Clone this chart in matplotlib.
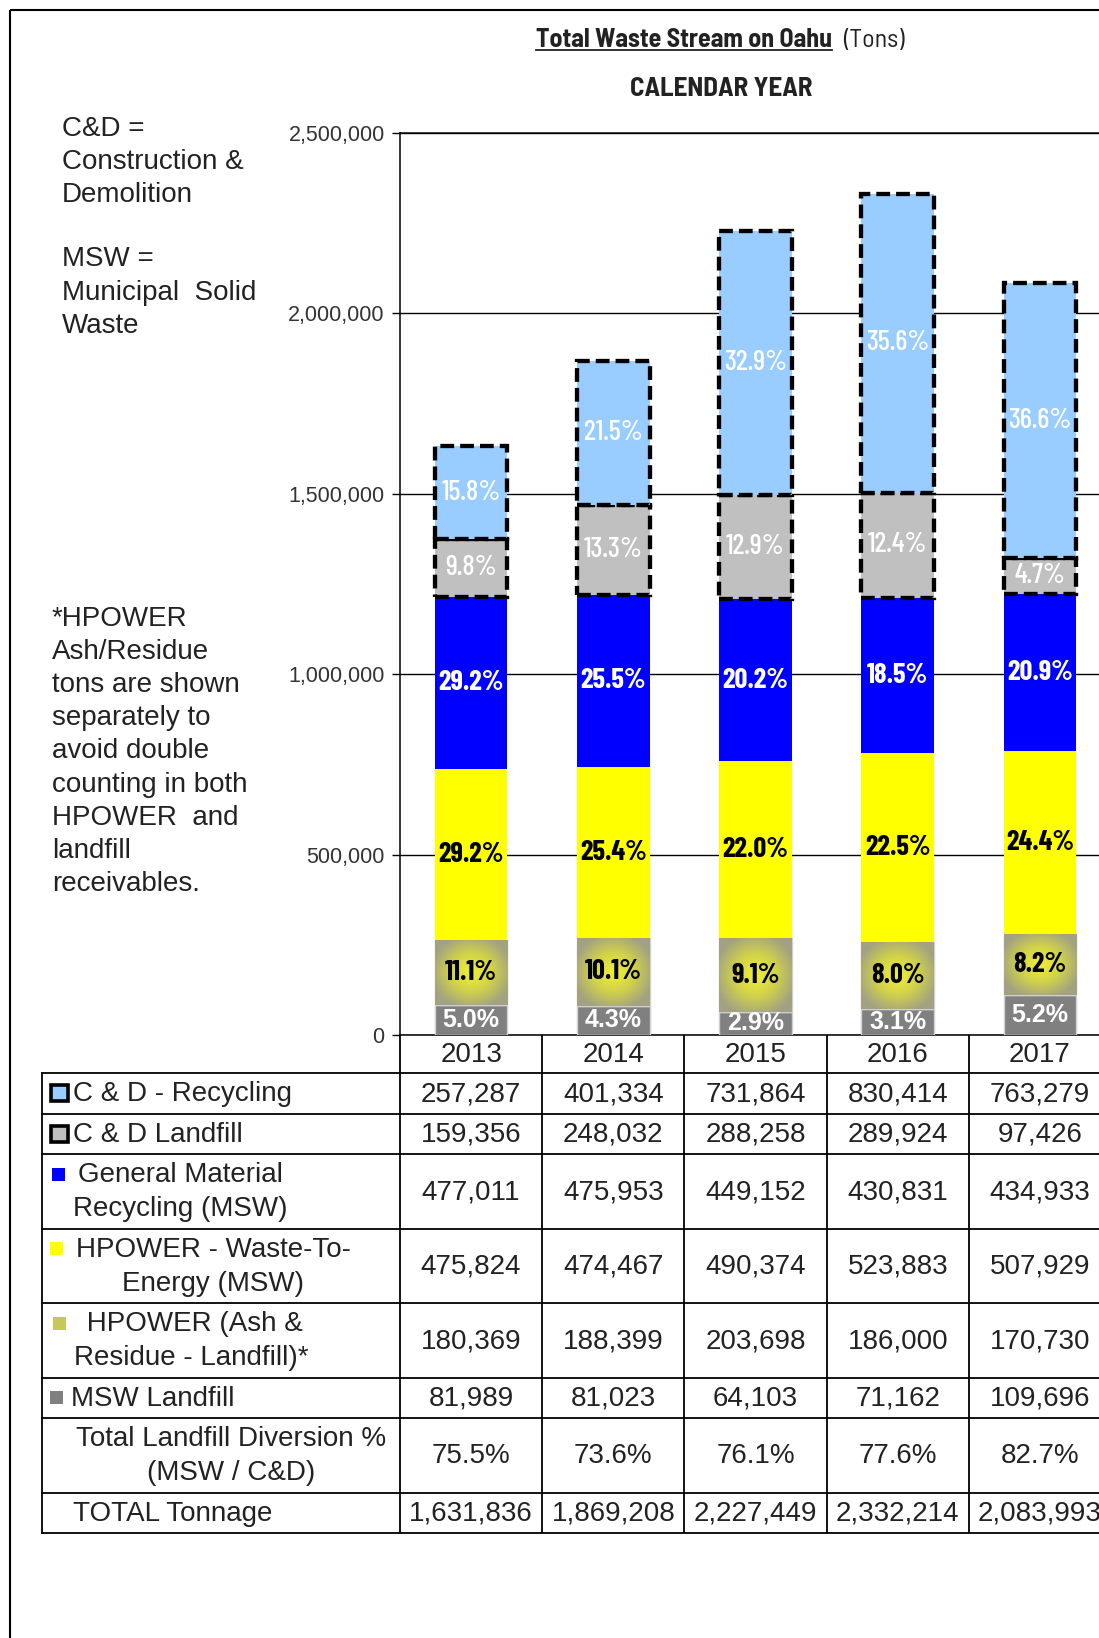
import numpy as np
import matplotlib
matplotlib.use('Agg')
import matplotlib.pyplot as plt
from matplotlib.patches import Rectangle
from matplotlib.colors import LinearSegmentedColormap
from matplotlib.ticker import FuncFormatter

# ---------------- data ----------------
years = ['2013', '2014', '2015', '2016', '2017']
cd_recycling = [257287, 401334, 731864, 830414, 763279]
cd_landfill = [159356, 248032, 288258, 289924, 97426]
gm_recycling = [477011, 475953, 449152, 430831, 434933]
hpower_wte = [475824, 474467, 490374, 523883, 507929]
hpower_ash = [180369, 188399, 203698, 186000, 170730]
msw_landfill = [81989, 81023, 64103, 71162, 109696]
diversion_pct = ['75.5%', '73.6%', '76.1%', '77.6%', '82.7%']
total_tonnage = [1631836, 1869208, 2227449, 2332214, 2083993]
y_ticks = [0, 500000, 1000000, 1500000, 2000000, 2500000]

# percentage labels shown on the bar segments
pct_msw_landfill = ['5.0%', '4.3%', '2.9%', '3.1%', '5.2%']
pct_hpower_ash = ['11.1%', '10.1%', '9.1%', '8.0%', '8.2%']
pct_hpower_wte = ['29.2%', '25.4%', '22.0%', '22.5%', '24.4%']
pct_gm_recycling = ['29.2%', '25.5%', '20.2%', '18.5%', '20.9%']
pct_cd_landfill = ['9.8%', '13.3%', '12.9%', '12.4%', '4.7%']
pct_cd_recycling = ['15.8%', '21.5%', '32.9%', '35.6%', '36.6%']

row_labels = [
    ['C & D - Recycling'],
    ['C & D Landfill'],
    ['General Material', 'Recycling (MSW)'],
    ['HPOWER - Waste-To-', 'Energy (MSW)'],
    [' HPOWER (Ash &', 'Residue - Landfill)*'],
    ['MSW Landfill'],
    ['Total Landfill Diversion %', '(MSW / C&D)'],
    ['TOTAL Tonnage'],
]
note_cd = ['C&D =', 'Construction &', 'Demolition']
note_msw = ['MSW =', 'Municipal  Solid', 'Waste']
note_hp = ['*HPOWER', 'Ash/Residue', 'tons are shown', 'separately to',
           'avoid double', 'counting in both', 'HPOWER  and', 'landfill',
           'receivables.']

# ---------------- styles ----------------
C_LBLUE = '#99CCFF'
C_SILVER = '#C0C0C0'
C_BLUE = '#0000FF'
C_YELLOW = '#FFFF00'
C_ASH = '#C8C85A'
C_GRAY = '#808080'
TXT = '#222222'
SANS = ['Liberation Sans', 'DejaVu Sans']
NARROW = ['Barlow Condensed', 'DejaVu Sans']
SEMI = ['Barlow Semi Condensed', 'DejaVu Sans']

W, H = 1099, 1638
DPI = 100
fig = plt.figure(figsize=(W / DPI, H / DPI), dpi=DPI)
fig.patch.set_facecolor('white')

# pixel canvas for texts / table
cv = fig.add_axes([0, 0, 1, 1])
cv.set_xlim(0, W)
cv.set_ylim(H, 0)
cv.axis('off')

AX_L, AX_R, AX_T, AX_B = 400, 1111, 133, 1035
ax = fig.add_axes([AX_L / W, 1 - AX_B / H, (AX_R - AX_L) / W, (AX_B - AX_T) / H])
ax.patch.set_alpha(0)

n = len(years)
x = np.arange(n)
bw = 0.51

series = [msw_landfill, hpower_ash, hpower_wte, gm_recycling, cd_landfill, cd_recycling]
pct_labels = [pct_msw_landfill, pct_hpower_ash, pct_hpower_wte, pct_gm_recycling,
              pct_cd_landfill, pct_cd_recycling]
DASH = (0, (3.2, 1.4))
styles = [
    dict(fc=C_GRAY, ec='#D0D0D0', lw=1.0, ls='-', tc='white', fw='bold', fam=SANS, fs=18),
    dict(fc=C_ASH, ec='#D0D0D0', lw=1.0, ls='-', tc='black', fw='bold', fam=NARROW, fs=20.5),
    dict(fc=C_YELLOW, ec='none', lw=0, ls='-', tc='black', fw='bold', fam=NARROW, fs=20.5),
    dict(fc=C_BLUE, ec='none', lw=0, ls='-', tc='white', fw='bold', fam=NARROW, fs=20.5),
    dict(fc=C_SILVER, ec='black', lw=3.1, ls=DASH, tc='white', fw='medium', fam=NARROW, fs=20.5),
    dict(fc=C_LBLUE, ec='black', lw=3.1, ls=DASH, tc='white', fw='medium', fam=NARROW, fs=20.5),
]

grad_cmap = LinearSegmentedColormap.from_list('ash', ['#F0F038', '#D2D24A', '#A2A282'])
yy, xx = np.mgrid[0:1:80j, 0:1:50j]
grad = np.clip(np.sqrt(((xx - 0.5) / 0.5) ** 2 + ((yy - 0.5) / 0.5) ** 2) / 1.15, 0, 1)

bottom = np.zeros(n)
for k, (vals, st, labs) in enumerate(zip(series, styles, pct_labels)):
    vals = np.array(vals, dtype=float)
    bars = ax.bar(x, vals, bw, bottom=bottom, color=st['fc'], edgecolor=st['ec'],
                  linewidth=st['lw'], linestyle=st['ls'], zorder=3 + (k >= 4))
    for b in bars:
        b.set_capstyle('butt')
    if k == 1:
        for b in bars:
            x0, y0, w, h = b.get_x(), b.get_y(), b.get_width(), b.get_height()
            im = ax.imshow(grad, extent=[x0, x0 + w, y0, y0 + h], cmap=grad_cmap, vmin=0, vmax=1,
                           aspect='auto', zorder=3.05, interpolation='bilinear', origin='lower')
            im.set_clip_path(b)
    for i in range(n):
        ax.text(x[i], bottom[i] + vals[i] / 2, labs[i], ha='center', va='center',
                color=st['tc'], fontweight=st['fw'], family=st['fam'], fontsize=st['fs'], zorder=6)
    bottom += vals

ax.set_xlim(-0.5, n - 0.5)
ax.set_ylim(0, 2500000)
ax.set_yticks(y_ticks)
ax.yaxis.set_major_formatter(FuncFormatter(lambda v, p: f'{int(v):,}'))
ax.set_xticks([])
ax.grid(axis='y', color='black', linewidth=1.0, zorder=1)
ax.set_axisbelow(True)
ax.spines['right'].set_visible(False)
for s in ['left', 'bottom', 'top']:
    ax.spines[s].set_linewidth(1.1)
    ax.spines[s].set_color('black')
ax.tick_params(axis='y', direction='out', length=5.8, width=1.0, pad=5.2, labelsize=15.5,
               labelcolor='#333333')
for lab in ax.get_yticklabels():
    lab.set_family(SANS)

# ---------------- outer border ----------------
cv.add_patch(Rectangle((10, 10), 1300, 1800, fill=False, edgecolor='black', linewidth=1.5))

# ---------------- titles ----------------
t_title = cv.text(536, 47, 'Total Waste Stream on Oahu', ha='left', va='baseline', fontsize=18.7,
                  fontweight='bold', family=SEMI, color=TXT)
cv.text(721, 89, 'CALENDAR YEAR', ha='center', va='center', fontsize=19.5, fontweight='bold',
        family=SEMI, color=TXT)

# ---------------- side notes ----------------
def note(lines, x0, y0, dy):
    for j, s in enumerate(lines):
        cv.text(x0, y0 + j * dy, s, ha='left', va='center', fontsize=20, family=SANS, color=TXT)

note(note_cd, 62, 128.5, 33.2)
note(note_msw, 62, 259.5, 33.2)
note(note_hp, 52, 619, 33.1)

# ---------------- table ----------------
colw = (AX_R - AX_L) / n
col_edges = [AX_L + colw * i for i in range(n + 1)]
col_cent = [AX_L + colw * (i + 0.5) for i in range(n)]
TL = 42
YR_T, YR_B = AX_B, 1073
LW = 1.3
row_h = [40.5 if len(r) == 1 else 74.5 for r in row_labels]
row_top = [YR_B]
for h in row_h:
    row_top.append(row_top[-1] + h)
TB = row_top[-1]

for xe in col_edges:
    cv.plot([xe, xe], [YR_T, TB], color='black', lw=LW, solid_capstyle='butt')
cv.plot([TL, TL], [YR_B, TB], color='black', lw=LW)
for yt in row_top:
    cv.plot([TL, AX_R], [yt, yt], color='black', lw=LW)

for i, yv in enumerate(years):
    cv.text(col_cent[i], (YR_T + YR_B) / 2 + 1, yv, ha='center', va='center', fontsize=20,
            family=SANS, color=TXT)

row_values = [
    [f'{v:,}' for v in cd_recycling],
    [f'{v:,}' for v in cd_landfill],
    [f'{v:,}' for v in gm_recycling],
    [f'{v:,}' for v in hpower_wte],
    [f'{v:,}' for v in hpower_ash],
    [f'{v:,}' for v in msw_landfill],
    diversion_pct,
    [f'{v:,}' for v in total_tonnage],
]
label_layout = [('left', 73), ('left', 73), ('center', 180), ('center', 213), ('center', 191),
                ('left', 71), ('center', 231), ('left', 73)]
LINE_DY = 34
for r, lines in enumerate(row_labels):
    top, h = row_top[r], row_h[r]
    c = top + h / 2
    first = top + (h - (len(lines) - 1) * LINE_DY) / 2
    ha, lx = label_layout[r]
    for j, s in enumerate(lines):
        cv.text(lx, first + j * LINE_DY + 1, s, ha=ha, va='center', fontsize=20, family=SANS,
                color=TXT)
    for i in range(n):
        cv.text(col_cent[i], c + 1, row_values[r][i], ha='center', va='center', fontsize=20,
                family=SANS, color=TXT)

# legend keys
def key_first_line(r):
    return row_top[r] + (row_h[r] - (len(row_labels[r]) - 1) * LINE_DY) / 2

for r, fc in [(0, C_LBLUE), (1, C_SILVER)]:
    yc = key_first_line(r)
    cv.add_patch(Rectangle((51, yc - 8), 17, 16, facecolor=fc, edgecolor='black', lw=2.6))
for r, fc, x0 in [(2, C_BLUE, 52), (3, C_YELLOW, 50), (4, C_ASH, 53), (5, C_GRAY, 50)]:
    yc = key_first_line(r)
    cv.add_patch(Rectangle((x0, yc - 6.5), 13, 13, facecolor=fc, edgecolor='none'))

# title underline and "(Tons)" placed after the bold title
fig.canvas.draw()
bb = t_title.get_window_extent()
inv = cv.transData.inverted()
x0, _ = inv.transform((bb.x0, bb.y0))
x1, _ = inv.transform((bb.x1, bb.y0))
cv.plot([x0, x1], [50, 50], color=TXT, lw=1.3)
cv.text(x1 + 11, 47, '(Tons)', ha='left', va='baseline', fontsize=18.7, family=SEMI, color=TXT)

fig.savefig('out.png', dpi=DPI)
